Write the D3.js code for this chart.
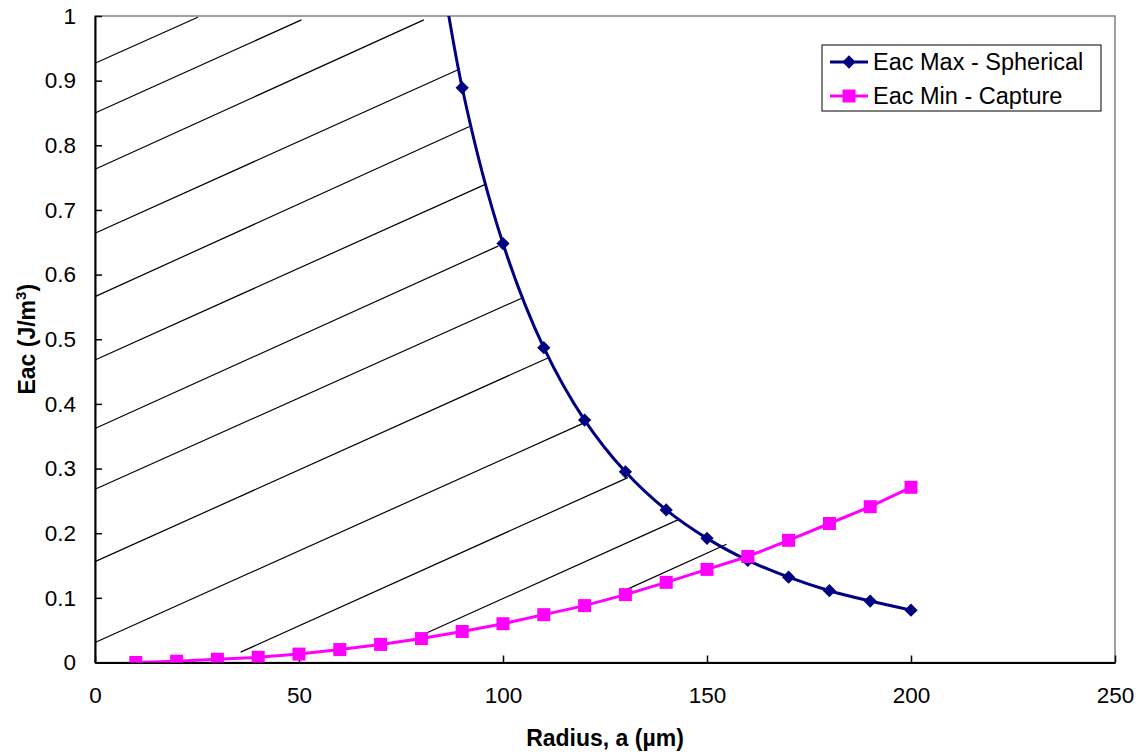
<!DOCTYPE html>
<html>
<head>
<meta charset="utf-8">
<script src="https://cdn.jsdelivr.net/npm/d3@7"></script>
<style>
  body { margin: 0; background: #fff; }
  svg { font-family: "Liberation Sans", Arial, sans-serif; }
</style>
</head>
<body>
<svg id="chart" width="1145" height="752"></svg>
<script>
// radius (um) and energy density values
const maxRadius = [80, 90, 100, 110, 120, 130, 140, 150, 160, 170, 180, 190, 200];
const maxEac = [1.27, 0.889, 0.648, 0.487, 0.375, 0.295, 0.236, 0.192, 0.158, 0.132, 0.111, 0.095, 0.081];

const minRadius = [10, 20, 30, 40, 50, 60, 70, 80, 90, 100, 110, 120, 130, 140, 150, 160, 170, 180, 190, 200];
const minEac = [0.0, 0.002, 0.005, 0.008, 0.013, 0.020, 0.028, 0.037, 0.048, 0.060, 0.074, 0.088, 0.105, 0.124, 0.144, 0.164, 0.189, 0.215, 0.241, 0.271];

const xTicks = [0, 50, 100, 150, 200, 250];
const xTickLabels = ["0", "50", "100", "150", "200", "250"];
const yTicks = [0, 0.1, 0.2, 0.3, 0.4, 0.5, 0.6, 0.7, 0.8, 0.9, 1];
const yTickLabels = ["0", "0.1", "0.2", "0.3", "0.4", "0.5", "0.6", "0.7", "0.8", "0.9", "1"];

const seriesNames = ["Eac Max - Spherical", "Eac Min - Capture"];

// hatching over the region, [x1, y1, x2, y2] in data units
const hatchLines = [
  [0, 0.927, 25.2, 0.998],
  [0, 0.850, 50.6, 0.994],
  [0, 0.763, 80.6, 0.994],
  [0, 0.664, 89.4, 0.918],
  [0, 0.566, 91.8, 0.829],
  [0, 0.468, 95.8, 0.740],
  [0, 0.362, 98.8, 0.644],
  [0, 0.268, 105.1, 0.565],
  [0, 0.156, 111.0, 0.471],
  [0, 0.031, 120.0, 0.371],
  [35.7, 0.016, 130.6, 0.286],
  [80.3, 0.043, 143.0, 0.221],
  [129.3, 0.110, 154.8, 0.183]
];

const margin = { left: 95, top: 16, right: 30, bottom: 89.5 };
const width = 1145, height = 752;
const svg = d3.select("#chart");

const x = d3.scaleLinear().domain([0, 250]).range([margin.left, width - margin.right]);
const y = d3.scaleLinear().domain([0, 1]).range([height - margin.bottom, margin.top]);

const blue = "#000080", pink = "#ff00ff";

// plot area border
svg.append("rect")
  .attr("x", x(0)).attr("y", y(1))
  .attr("width", x(250) - x(0)).attr("height", y(0) - y(1))
  .attr("fill", "none").attr("stroke", "#808080").attr("stroke-width", 1.5);

svg.append("clipPath").attr("id", "plotclip")
  .append("rect")
  .attr("x", x(0)).attr("y", y(1))
  .attr("width", x(250) - x(0)).attr("height", y(0) - y(1));

// hatch
svg.append("g").selectAll("line")
  .data(hatchLines)
  .enter().append("line")
  .attr("x1", d => x(d[0])).attr("y1", d => y(d[1]))
  .attr("x2", d => x(d[2])).attr("y2", d => y(d[3]))
  .attr("stroke", "#000").attr("stroke-width", 1.2);

// axes
const yAxis = d3.axisLeft(y).tickValues(yTicks)
  .tickFormat((d, i) => yTickLabels[i])
  .tickSize(-7).tickSizeOuter(0).tickPadding(19);
const xAxis = d3.axisBottom(x).tickValues(xTicks)
  .tickFormat((d, i) => xTickLabels[i])
  .tickSize(-7).tickSizeOuter(0).tickPadding(25);

const gy = svg.append("g").attr("transform", `translate(${x(0)},0)`).call(yAxis);
const gx = svg.append("g").attr("transform", `translate(0,${y(0)})`).call(xAxis);
[gx, gy].forEach(g => {
  g.select(".domain").attr("stroke", "#000").attr("stroke-width", 2);
  g.selectAll(".tick line").attr("stroke", "#000").attr("stroke-width", 1.5);
  g.selectAll(".tick text").attr("font-size", 22.5).attr("fill", "#000")
    .attr("font-family", "'Liberation Sans', Arial, sans-serif");
});

const plot = svg.append("g").attr("clip-path", "url(#plotclip)");

const maxData = maxRadius.map((r, i) => [r, maxEac[i]]);
const minData = minRadius.map((r, i) => [r, minEac[i]]);

const smooth = d3.line().x(d => x(d[0])).y(d => y(d[1])).curve(d3.curveCatmullRom.alpha(0.5));
const straight = d3.line().x(d => x(d[0])).y(d => y(d[1]));

const diamond = d3.symbol().type(d3.symbolSquare).size(88);

plot.append("path").datum(maxData)
  .attr("d", smooth).attr("fill", "none").attr("stroke", blue).attr("stroke-width", 3);
plot.selectAll(".dmark").data(maxData).enter().append("path")
  .attr("class", "dmark")
  .attr("d", diamond)
  .attr("transform", d => `translate(${x(d[0])},${y(d[1])}) rotate(45)`)
  .attr("fill", blue);

plot.append("path").datum(minData)
  .attr("d", straight).attr("fill", "none").attr("stroke", pink).attr("stroke-width", 3);
plot.selectAll(".smark").data(minData).enter().append("rect")
  .attr("class", "smark")
  .attr("x", d => x(d[0]) - 6.5).attr("y", d => y(d[1]) - 6.5)
  .attr("width", 13).attr("height", 13)
  .attr("fill", pink);

// axis titles
svg.append("text")
  .attr("x", (x(0) + x(250)) / 2).attr("y", 746)
  .attr("text-anchor", "middle").attr("font-size", 23).attr("font-weight", "bold")
  .text("Radius, a (\u00b5m)");

const yt = svg.append("text")
  .attr("transform", `translate(35,${(y(0) + y(1)) / 2}) rotate(-90)`)
  .attr("text-anchor", "middle").attr("font-size", 23).attr("font-weight", "bold");
yt.append("tspan").text("Eac (J/m");
yt.append("tspan").attr("font-size", 15).attr("dy", -9).text("3");
yt.append("tspan").attr("dy", 9).text(")");

// legend
const lg = svg.append("g").attr("transform", "translate(822,45)");
lg.append("rect").attr("width", 279).attr("height", 66)
  .attr("fill", "#fff").attr("stroke", "#000").attr("stroke-width", 1);
const colors = [blue, pink];
seriesNames.forEach((name, i) => {
  const cy = 17 + i * 34;
  lg.append("line").attr("x1", 8).attr("x2", 46).attr("y1", cy).attr("y2", cy)
    .attr("stroke", colors[i]).attr("stroke-width", 3);
  if (i === 0) {
    lg.append("path").attr("d", diamond)
      .attr("transform", `translate(27,${cy}) rotate(45)`).attr("fill", blue);
  } else {
    lg.append("rect").attr("x", 20.5).attr("y", cy - 6.5).attr("width", 13).attr("height", 13)
      .attr("fill", pink);
  }
  lg.append("text").attr("x", 51).attr("y", cy + 8)
    .attr("font-size", 23.5).text(name);
});
</script>
</body>
</html>
